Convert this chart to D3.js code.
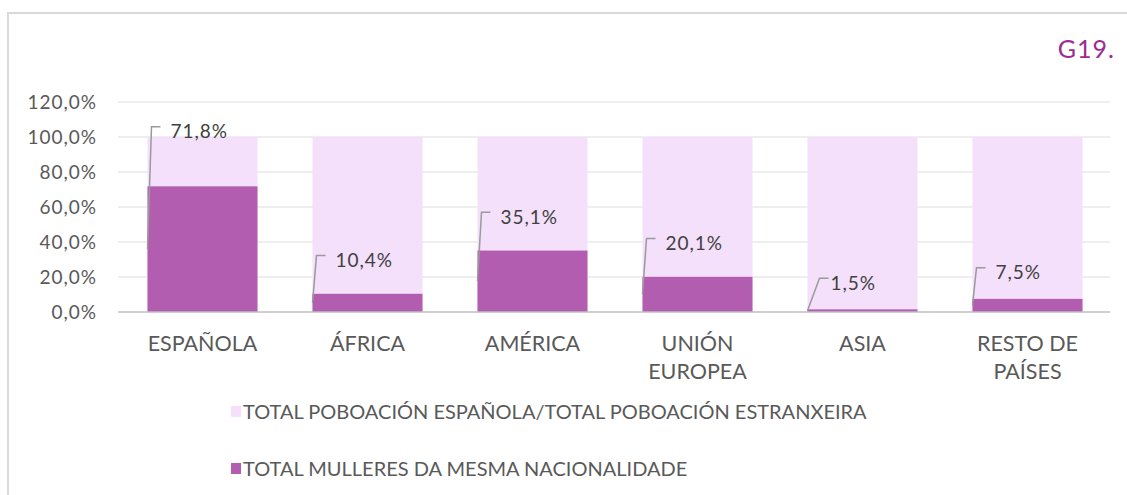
<!DOCTYPE html>
<html>
<head>
<meta charset="utf-8">
<script src="https://cdn.jsdelivr.net/npm/d3@7"></script>
<style>
  html, body { margin: 0; padding: 0; background: #fff; }
  svg { display: block; }
</style>
</head>
<body>
<div id="chart"></div>
<script>
// data
const categories = [['ESPAÑOLA'], ['ÁFRICA'], ['AMÉRICA'], ['UNIÓN', 'EUROPEA'], ['ASIA'], ['RESTO DE', 'PAÍSES']];
const totalShare = [100, 100, 100, 100, 100, 100];
const womenShare = [71.8, 10.4, 35.1, 20.1, 1.5, 7.5];
const yTicks = [0, 20, 40, 60, 80, 100, 120];
const seriesNames = ['TOTAL POBOACIÓN ESPAÑOLA/TOTAL POBOACIÓN ESTRANXEIRA', 'TOTAL MULLERES DA MESMA NACIONALIDADE'];

const width = 1127, height = 495;
const light = '#f4e0fb', dark = '#b35db0';
const font = 'Lato, "Open Sans", sans-serif';

let svg = d3.select('#chart').append('svg')
  .attr('width', width)
  .attr('height', height);

// outer frame
svg.append('rect')
  .attr('x', 8).attr('y', 13)
  .attr('width', width).attr('height', height)
  .attr('fill', 'none')
  .attr('stroke', '#d9d9d9')
  .attr('stroke-width', 2);

svg.append('text')
  .attr('x', 1115).attr('y', 58)
  .attr('text-anchor', 'end')
  .attr('font-family', font)
  .attr('font-size', 25)
  .attr('letter-spacing', 1)
  .attr('fill', '#9c2b93')
  .text('G19.');

let x = d3.scaleBand()
  .domain(d3.range(categories.length))
  .range([120, 1110])
  .paddingInner(1 / 3)
  .paddingOuter(1 / 6);

let y = d3.scaleLinear().domain([0, 120]).range([312, 102]);

// gridlines
svg.append('g')
  .selectAll('line')
  .data(yTicks.slice(1))
  .enter()
    .append('line')
    .attr('x1', 118).attr('x2', 1110)
    .attr('y1', (d) => y(d)).attr('y2', (d) => y(d))
    .attr('stroke', '#e8e8e8')
    .attr('stroke-width', 1.5);

// y tick labels
let pct = (d) => d3.format('.1f')(d).replace('.', ',') + '%';

let yAxis = d3.axisLeft(y)
  .tickValues(yTicks)
  .tickSize(0)
  .tickPadding(0)
  .tickFormat(pct);

let ya = svg.append('g')
  .attr('transform', 'translate(97,0)')
  .call(yAxis);
ya.select('.domain').remove();
ya.selectAll('text')
  .attr('font-family', font)
  .attr('font-size', 19)
  .attr('letter-spacing', 1)
  .attr('fill', '#595959');

// bars: light total then dark share
svg.append('g')
  .selectAll('rect')
  .data(totalShare)
  .enter()
    .append('rect')
    .attr('x', (d, i) => x(i))
    .attr('y', (d) => y(d))
    .attr('width', x.bandwidth())
    .attr('height', (d) => y(0) - y(d))
    .attr('fill', light);

svg.append('g')
  .selectAll('rect')
  .data(womenShare)
  .enter()
    .append('rect')
    .attr('x', (d, i) => x(i))
    .attr('y', (d) => y(d))
    .attr('width', x.bandwidth())
    .attr('height', (d) => y(0) - y(d))
    .attr('fill', dark);

// baseline
svg.append('line')
  .attr('x1', 118).attr('x2', 1110)
  .attr('y1', y(0)).attr('y2', y(0))
  .attr('stroke', '#bfbfbf')
  .attr('stroke-width', 1.5);

// data labels with leader lines (labels were dragged up in the original)
let labelAt = (v) => v < 10 ? v + 15 : (v > 60 ? 103 : v + 19);

let labels = svg.append('g')
  .selectAll('g')
  .data(womenShare)
  .enter()
    .append('g');

labels.append('path')
  .attr('d', (d, i) => {
    let x0 = x(i), y0 = y(d / 2), y1 = y(labelAt(d)) - 5;
    let slant = d < 5 ? 12 : 4;
    return 'M' + x0 + ',' + y0 + 'L' + (x0 + slant) + ',' + y1 + 'L' + (x0 + slant + 9) + ',' + y1;
  })
  .attr('fill', 'none')
  .attr('stroke', '#9a9a9a')
  .attr('stroke-width', 1.5);

labels.append('text')
  .attr('x', (d, i) => x(i) + 23)
  .attr('y', (d) => y(labelAt(d)))
  .attr('dy', '0.35em')
  .attr('font-family', font)
  .attr('font-size', 19)
  .attr('letter-spacing', 1)
  .attr('fill', '#404040')
  .text(pct);

// category labels
let xl = svg.append('g')
  .selectAll('text')
  .data(categories)
  .enter()
    .append('text')
    .attr('x', (d, i) => x(i) + x.bandwidth() / 2)
    .attr('y', 351)
    .attr('text-anchor', 'middle')
    .attr('font-family', font)
    .attr('font-size', 21.5)
    .attr('fill', '#595959');

xl.selectAll('tspan')
  .data((d) => d)
  .enter()
    .append('tspan')
    .attr('x', function () { return d3.select(this.parentNode).attr('x'); })
    .attr('dy', (d, j) => j ? 28 : 0)
    .text((d) => d);

// legend
let legend = svg.append('g')
  .selectAll('g')
  .data(seriesNames)
  .enter()
    .append('g')
    .attr('transform', (d, i) => 'translate(231,' + (411 + i * 57) + ')');

legend.append('rect')
  .attr('x', 0).attr('y', -5)
  .attr('width', 10).attr('height', 11)
  .attr('fill', (d, i) => i ? dark : light);

legend.append('text')
  .attr('x', 12).attr('y', 1)
  .attr('dy', '0.35em')
  .attr('font-family', font)
  .attr('font-size', 20)
  .attr('fill', '#595959')
  .text((d) => d);
</script>
</body>
</html>
